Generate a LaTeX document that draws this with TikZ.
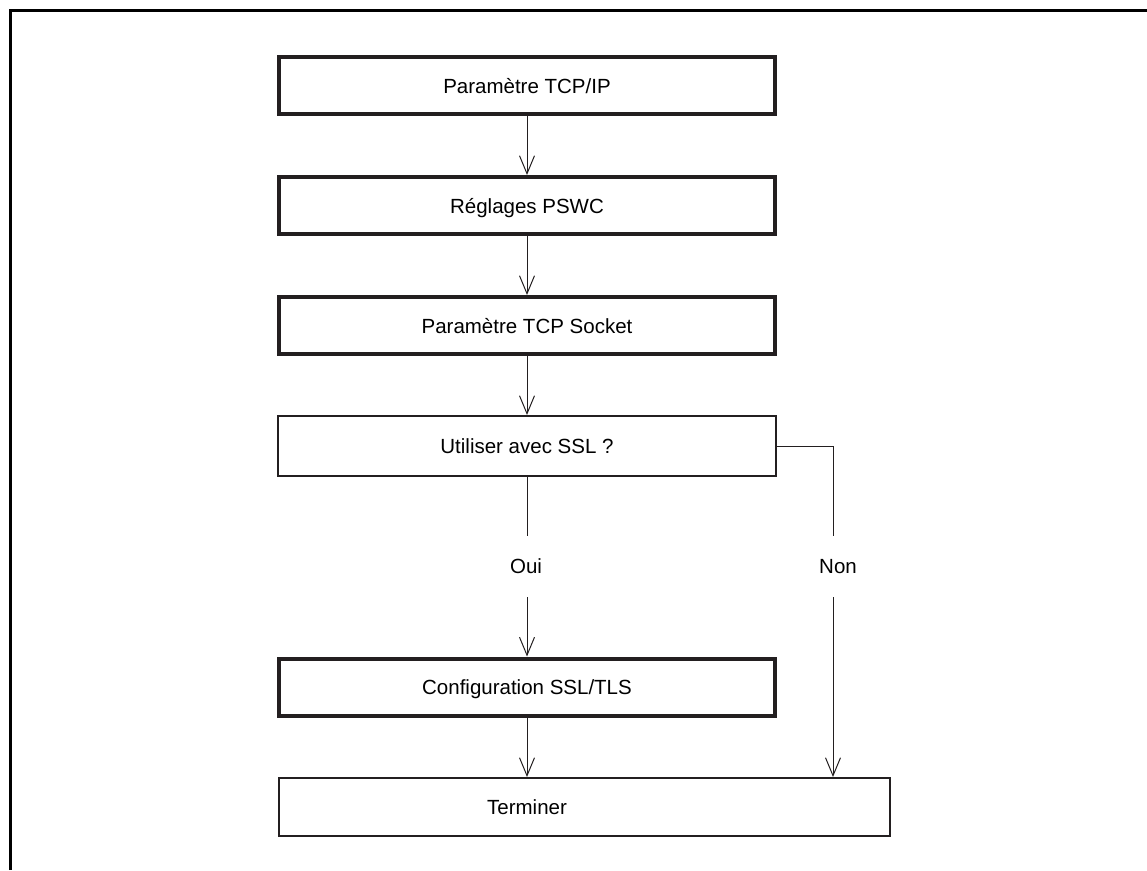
\documentclass[tikz,border=0pt]{standalone}
\usepackage{fontspec}
\setmainfont{Liberation Sans}
\usetikzlibrary{arrows.meta}
\definecolor{boxc}{HTML}{231F20}
\begin{document}
\begin{tikzpicture}[x=1pt,y=-1pt,
  txt/.style={font=\fontsize{20.5}{24}\selectfont, text height=15pt, text depth=0pt, inner sep=0pt},
  thickbox/.style={txt, draw=boxc, line width=4pt, minimum width=496pt, minimum height=57pt},
  thinbox/.style={txt, draw=boxc, line width=1.6pt, minimum width=498.4pt, minimum height=60.4pt},
  conn/.style={draw=boxc, line width=1pt},
  arr/.style={conn, -{Straight Barb[length=18pt,width=15pt]}},
  lbl/.style={txt, fill=white}
]
\useasboundingbox (0,0) rectangle (1147,870);
% frame (top and left only)
\draw[line width=2.5pt, black] (10.7,870) -- (10.7,10.7) -- (1147,10.7);

\node[thickbox] (b1) at (527,85.5) {Paramètre TCP/IP};
\node[thickbox] (b2) at (527,205.5) {Réglages PSWC};
\node[thickbox] (b3) at (527,325.5) {Paramètre TCP Socket};
\node[thinbox]  (b4) at (527,446) {Utiliser avec SSL ?};
\node[thickbox] (b5) at (527,687) {Configuration SSL/TLS};
\node[thinbox, minimum width=611.4pt, minimum height=58.4pt] (b6) at (584.5,807) {};
\node[txt] (t6) at (527,807) {Terminer};

\node[txt] (oui) at (526,566) {Oui};
\node[txt] (non) at (838,566) {Non};

\coordinate (o1) at (527,536);
\coordinate (o2) at (527,597);
\coordinate (n0) at (833,446);
\coordinate (n1) at (833,536);
\coordinate (n2) at (833,597);
\coordinate (n3) at (833,777);

\draw[arr] (b1.south) -- (b2.north);
\draw[arr] (b2.south) -- (b3.north);
\draw[arr] (b3.south) -- (b4.north);
\draw[conn] (b4.south) -- (o1);
\draw[arr] (o2) -- (b5.north);
\draw[arr] (b5.south) -- (b5.south |- b6.north);
\draw[conn] (b4.east) -- (n0) -- (n1);
\draw[arr] (n2) -- (n3);
\end{tikzpicture}
\end{document}
